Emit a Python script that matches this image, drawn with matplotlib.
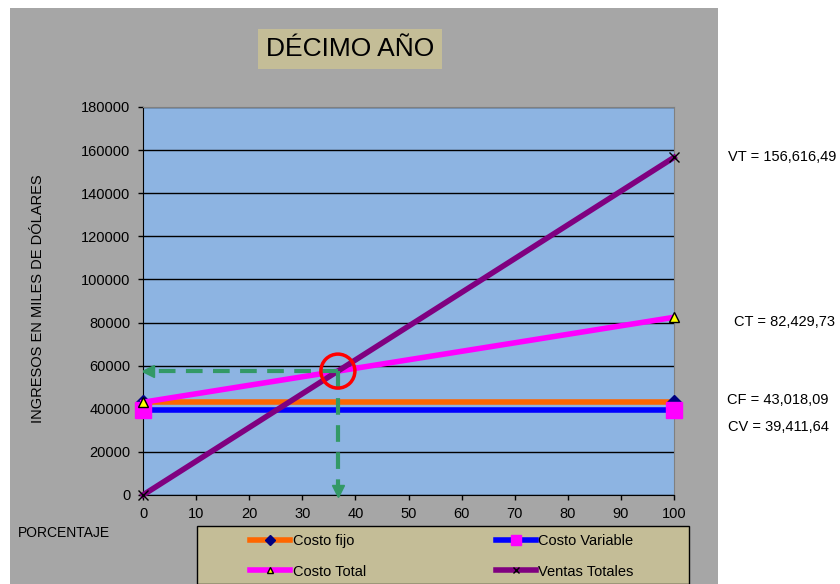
import numpy as np
import matplotlib.pyplot as plt
from matplotlib.patches import Rectangle, Ellipse

plt.rcParams["font.family"] = ["Liberation Sans", "DejaVu Sans"]

# data: percentage of capacity (x) and the four cost / revenue series
porcentaje = [0, 100]
costo_fijo = [43018.09, 43018.09]
costo_variable = [39411.64, 39411.64]
costo_total = [43018.09, 82429.73]
ventas_totales = [0, 156616.49]

etiquetas = ["VT = 156,616,49", "CT = 82,429,73", "CF = 43,018,09", "CV = 39,411,64"]

GRAY = "#a6a6a6"
PLOT_BG = "#8db4e2"
TAN = "#c4bd97"

fig = plt.figure(figsize=(8.4, 5.84), dpi=100)
fig.patches.append(Rectangle((10 / 840, 0), 708 / 840, 576 / 584, transform=fig.transFigure,
                             facecolor=GRAY, edgecolor="none", zorder=-5))

ax = fig.add_axes([143 / 840, 89 / 584, 531 / 840, 388 / 584])
ax.set_facecolor(PLOT_BG)
ax.set_xlim(0, 100)
ax.set_ylim(0, 180000)
ax.set_xticks(np.arange(0, 101, 10))
ax.set_yticks(np.arange(0, 180001, 20000))
ax.tick_params(labelsize=10.5, length=3.5, width=1, direction="out")
ax.tick_params(axis="y", pad=5.5)
ax.tick_params(axis="x", pad=5.5)
ax.grid(True, axis="y", color="black", lw=1)
ax.set_axisbelow(True)
for side in ["top", "right"]:
    ax.spines[side].set_color("#808080")
for side in ["left", "bottom"]:
    ax.spines[side].set_color("black")

ax.plot(porcentaje, costo_fijo, color="#ff6600", lw=4, marker="D", ms=7,
        mfc="#000080", mec="#000080", clip_on=False, zorder=3, label="Costo fijo")
ax.plot(porcentaje, costo_variable, color="#0000ff", lw=4, marker="s", ms=11,
        mfc="#ff00ff", mec="#ff00ff", clip_on=False, zorder=4, label="Costo Variable")
ax.plot(porcentaje, costo_total, color="#ff00ff", lw=4, marker="^", ms=7,
        mfc="#ffff00", mec="black", mew=1, clip_on=False, zorder=5, label="Costo Total")
ax.plot(porcentaje, ventas_totales, color="#800080", lw=4, marker="x", ms=7,
        mec="black", mew=1, clip_on=False, zorder=6, label="Ventas Totales")

# punto de equilibrio: ventas totales = costo total
pendiente_vt = (ventas_totales[1] - ventas_totales[0]) / 100
pendiente_ct = (costo_total[1] - costo_total[0]) / 100
x_eq = (costo_total[0] - ventas_totales[0]) / (pendiente_vt - pendiente_ct)
y_eq = ventas_totales[0] + pendiente_vt * x_eq

verde = "#339966"
ax.plot([x_eq, 1.0], [y_eq, y_eq], color=verde, lw=3, ls=(0, (4, 2.5)), zorder=7)
ax.plot([1.0], [y_eq], marker="<", color=verde, ms=8, zorder=7)
ax.plot([x_eq, x_eq], [y_eq, 2500], color=verde, lw=3, ls=(0, (4, 2.5)), zorder=7)
ax.plot([x_eq], [1800], marker="v", color=verde, ms=8, zorder=7, clip_on=False)

px_w = 100 / 531
px_h = 180000 / 388
ax.add_patch(Ellipse((x_eq, y_eq), 34 * px_w, 34 * px_h, fill=False,
                     edgecolor="red", lw=2.5, zorder=8))

# title box
fig.text(350 / 840, 1 - 49 / 584, "DÉCIMO AÑO", fontsize=19, ha="center", va="center",
         bbox=dict(boxstyle="square,pad=0.3", facecolor=TAN, edgecolor="none"))

fig.text(38 / 840, 1 - 299 / 584, "INGRESOS EN MILES DE DÓLARES", fontsize=10.5,
         rotation=90, ha="center", va="center")
fig.text(18 / 840, 1 - 533 / 584, "PORCENTAJE", fontsize=10, ha="left", va="center")

# value labels on the right
fig.text(782 / 840, 1 - 157 / 584, etiquetas[0], fontsize=10.5, ha="center", va="center")
fig.text(785 / 840, 1 - 322 / 584, etiquetas[1], fontsize=10.5, ha="center", va="center")
fig.text(778 / 840, 1 - 400 / 584, etiquetas[2], fontsize=10.5, ha="center", va="center",
         bbox=dict(boxstyle="square,pad=0.45", facecolor="white", edgecolor="none"))
fig.text(778 / 840, 1 - 427 / 584, etiquetas[3], fontsize=10.5, ha="center", va="center",
         bbox=dict(boxstyle="square,pad=0.45", facecolor="white", edgecolor="none"))

# legend
fig.patches.append(Rectangle((197 / 840, 0), 492 / 840, 58 / 584, transform=fig.transFigure,
                             facecolor=TAN, edgecolor="black", lw=1, zorder=1))
handles, labels = ax.get_legend_handles_labels()
order = [0, 2, 1, 3]
leg = fig.legend([handles[i] for i in order], [labels[i] for i in order],
                 loc="center left", bbox_to_anchor=(243 / 840, 27.5 / 584), ncol=2,
                 frameon=False, fontsize=10.5, handlelength=2.75, handletextpad=0.15,
                 borderpad=0, columnspacing=8.9, labelspacing=1.1, markerscale=0.7)
leg.set_zorder(3)

fig.savefig("out.png", dpi=100)
